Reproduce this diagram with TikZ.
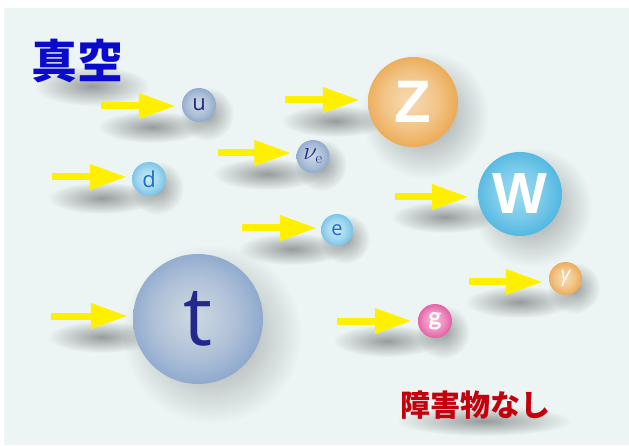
\documentclass[tikz,border=0pt]{standalone}
\usepackage{fontspec}
\newfontfamily\cjk{Noto Sans CJK JP}
\newfontfamily\osans{Open Sans}
\newfontfamily\lato{Lato}
\newfontfamily\lsans{Liberation Sans}
\usetikzlibrary{arrows.meta,fadings}
\definecolor{bg}{HTML}{ECF5F4}
\definecolor{arrowyellow}{HTML}{FFF000}
\definecolor{vacblue}{HTML}{0A0ACC}
\definecolor{nored}{HTML}{C3000B}
\definecolor{navy}{HTML}{23288C}
\definecolor{dblue}{HTML}{1A6EC8}
\definecolor{gbin}{HTML}{CFD8E1}
\definecolor{gbout}{HTML}{8BA7CD}
\definecolor{lbin}{HTML}{CDEAF5}
\definecolor{lbout}{HTML}{72C1E6}
\definecolor{wbin}{HTML}{9CDBF1}
\definecolor{wbout}{HTML}{4FB5E0}
\definecolor{orin}{HTML}{F7DCB5}
\definecolor{orout}{HTML}{EBA850}
\definecolor{pkin}{HTML}{F8BADA}
\definecolor{pkout}{HTML}{E358A1}
\newcommand\mksphere[3]{%
  \colorlet{#1mid}{#2!55!#3}%
  \pgfdeclareradialshading{#1}{\pgfpoint{-2bp}{1bp}}{color(0bp)=(#2); color(15bp)=(#1mid); color(27bp)=(#3); color(50bp)=(#3)}}
\mksphere{sphg}{gbin}{gbout}
\mksphere{sphl}{lbin}{lbout}
\mksphere{sphw}{wbin}{wbout}
\mksphere{spho}{orin}{orout}
\mksphere{sphp}{pkin}{pkout}
\tikzfading[name=fuzzy, inner color=transparent!0, outer color=transparent!100]
\begin{document}
\begin{tikzpicture}[x=1pt,y=-1pt,
  arr/.style={draw=arrowyellow, line width=7pt, -{Triangle[length=37pt,width=24pt]}},
  ball/.style={circle, inner sep=0pt, minimum size=#1},
  blob/.style={fill=black, fill opacity=0.36, path fading=fuzzy},
  sh/.style={shade, shading=#1},
  f/.style={font=\osans\fontsize{#1}{#1}\selectfont}]
\useasboundingbox (0,0) rectangle (629,446);
\fill[white] (0,0) rectangle (629,446);
\fill[bg] (4,8) rectangle (629,445);
% shadows
\fill[blob] (92,86) ellipse (58 and 20);
\fill[blob] (152,127) ellipse (54 and 16);
\fill[blob] (207,114) circle (27);
\fill[blob] (102,198) ellipse (54 and 16);
\fill[blob] (157,188) circle (27);
\fill[blob] (267,174) ellipse (54 and 16);
\fill[blob] (321,165) circle (26);
\fill[blob] (335,121) ellipse (54 and 16);
\fill[blob] (425,115) circle (64);
\fill[blob] (292,249) ellipse (54 and 16);
\fill[blob] (345,239) circle (25);
\fill[blob] (445,217) ellipse (54 and 16);
\fill[blob] (532,207) circle (60);
\fill[blob] (519,302) ellipse (54 and 16);
\fill[blob] (574,288) circle (26);
\fill[blob] (387,341) ellipse (54 and 16);
\fill[blob] (443,332) circle (27);
\fill[blob] (102,337) ellipse (54 and 16);
\fill[blob] (212,334) circle (90);
\fill[blob] (484,421) ellipse (88 and 15);
% balls
\node[ball=34, sh=sphg, text=navy, f=22] (u) at (199,105) {u};
\node[ball=34, sh=sphl, text=dblue, f=22] (d) at (149,179) {d};
\node[ball=33, sh=sphg, text=navy, font=\fontsize{23}{23}\selectfont] (nu) at (313,156.5) {$\nu_{\mathrm{e}}$};
\node[ball=32, sh=sphl, text=dblue, f=20] (e) at (337,230) {e};
\node[ball=90, sh=spho, text=white, font=\lsans\bfseries\fontsize{60}{60}\selectfont] (Z) at (413,102) {Z};
\node[ball=84, sh=sphw, text=white, font=\lsans\bfseries\fontsize{58}{58}\selectfont] (W) at (520,194) {W};
\node[ball=33, sh=spho, text=white, font=\osans\itshape\fontsize{21}{21}\selectfont] (gam) at (565.5,278.5) {γ};
\node[ball=34, sh=sphp, text=white, font=\lato\bfseries\fontsize{25}{25}\selectfont] (g) at (435,321) {g};
\node[ball=130, sh=sphg, text=navy, f=82] (t) at (198,319) {t};
% arrows
\coordinate (ua) at (101,106);
\coordinate (da) at (52,177);
\coordinate (nua) at (218,153);
\coordinate (za) at (285,100);
\coordinate (ea) at (242,228);
\coordinate (wa) at (395,197);
\coordinate (gama) at (469,282);
\coordinate (ga) at (337,321);
\coordinate (ta) at (51,316);
\draw[arr, shorten >=6pt] (ua) -- (ua -| u.west);
\draw[arr, shorten >=5pt] (da) -- (da -| d.west);
\draw[arr, shorten >=5pt] (nua) -- (nua -| nu.west);
\draw[arr, shorten >=8pt] (za) -- (za -| Z.west);
\draw[arr, shorten >=4pt] (ea) -- (ea -| e.west);
\draw[arr, shorten >=9pt] (wa) -- (wa -| W.west);
\draw[arr, shorten >=6pt] (gama) -- (gama -| gam.west);
\draw[arr, shorten >=6pt] (ga) -- (ga -| g.west);
\draw[arr, shorten >=5pt] (ta) -- (ta -| t.west);
% texts
\node[font=\cjk\bfseries\fontsize{46}{46}\selectfont, text=vacblue] (vac) at (77,61) {真空};
\node[font=\cjk\bfseries\fontsize{30}{30}\selectfont, text=nored] (nob) at (475,405) {障害物なし};
\end{tikzpicture}
\end{document}
